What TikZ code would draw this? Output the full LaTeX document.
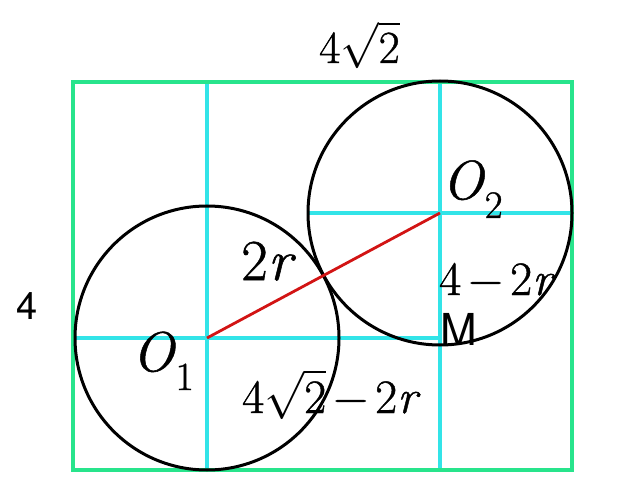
\RequirePackage{fix-cm}
\documentclass[tikz,border=0pt]{standalone}
\usepackage{fontspec}
\setmainfont{Latin Modern Roman}[FakeBold=0.9]
\newfontfamily\arialfont{TeX Gyre Heros}
\definecolor{rgreen}{RGB}{40,228,140}
\definecolor{rcyan}{RGB}{50,228,232}
\definecolor{rred}{RGB}{210,20,20}
\tikzset{
  frame/.style={draw=rgreen, line width=3.2pt},
  grid/.style={draw=rcyan, line width=3.2pt},
  circ/.style={draw=black, line width=3pt},
  seg/.style={draw=rred, line width=2.8pt},
  lab/.style={inner sep=0pt, anchor=base west},
}
\newcommand{\fsz}[1]{\fontsize{#1}{#1}\selectfont}
\newcommand{\rad}{\ensuremath{\sqrt{\mbox{2}\vphantom{X}}}}
\newcommand{\mnus}{\kern0.15em−\kern0.15em}
\begin{document}
\begin{tikzpicture}[x=1pt,y=-1pt]
\useasboundingbox (0,0) rectangle (640,497);
% points
\coordinate (O1) at (207,338);
\coordinate (O2) at (440,213);
\coordinate (TL) at (73,82);
\coordinate (BR) at (572,470);
\coordinate (V1t) at (207,82);
\coordinate (V1b) at (207,470);
\coordinate (V2t) at (440,82);
\coordinate (V2b) at (440,470);
\coordinate (H1l) at (73,338);
\coordinate (H2l) at (308,213);
\coordinate (H2r) at (572,213);
% grid lines
\draw[grid] (V1t) -- (V1b);
\draw[grid] (V2t) -- (V2b);
\draw[grid] (H1l) -- (V2b |- O1);
\draw[grid] (H2l) -- (H2r);
% frame
\draw[frame] (TL) rectangle (BR);
% circles
\draw[circ] (O1) circle[radius=132];
\draw[circ] (O2) circle[radius=132];
% segment
\draw[seg] (O1) -- (O2);
% labels
\node[lab] (ltop) at (319,63) {\fsz{46}4\rad};
\node[lab] (lleft) at (16,319) {\arialfont\fsz{38}4};
\node[lab] (lo1) at (132,371) {\fsz{56}\textit{O}\raisebox{-19pt}{\fsz{40}1}};
\node[lab] (l2r) at (241,280) {\fsz{58}2\textit{r}};
\node[lab] (lbot) at (242,413) {\fsz{48}4\rad\mnus2\textit{r}};
\node[lab] (lo2) at (442,199) {\fsz{55}\textit{O}\raisebox{-19pt}{\fsz{39}2}};
\node[lab] (lright) at (439,295) {\fsz{48}4\mnus2\textit{r}};
\node[lab] (lm) at (440,345) {\arialfont\fsz{44}M};
\end{tikzpicture}
\end{document}
